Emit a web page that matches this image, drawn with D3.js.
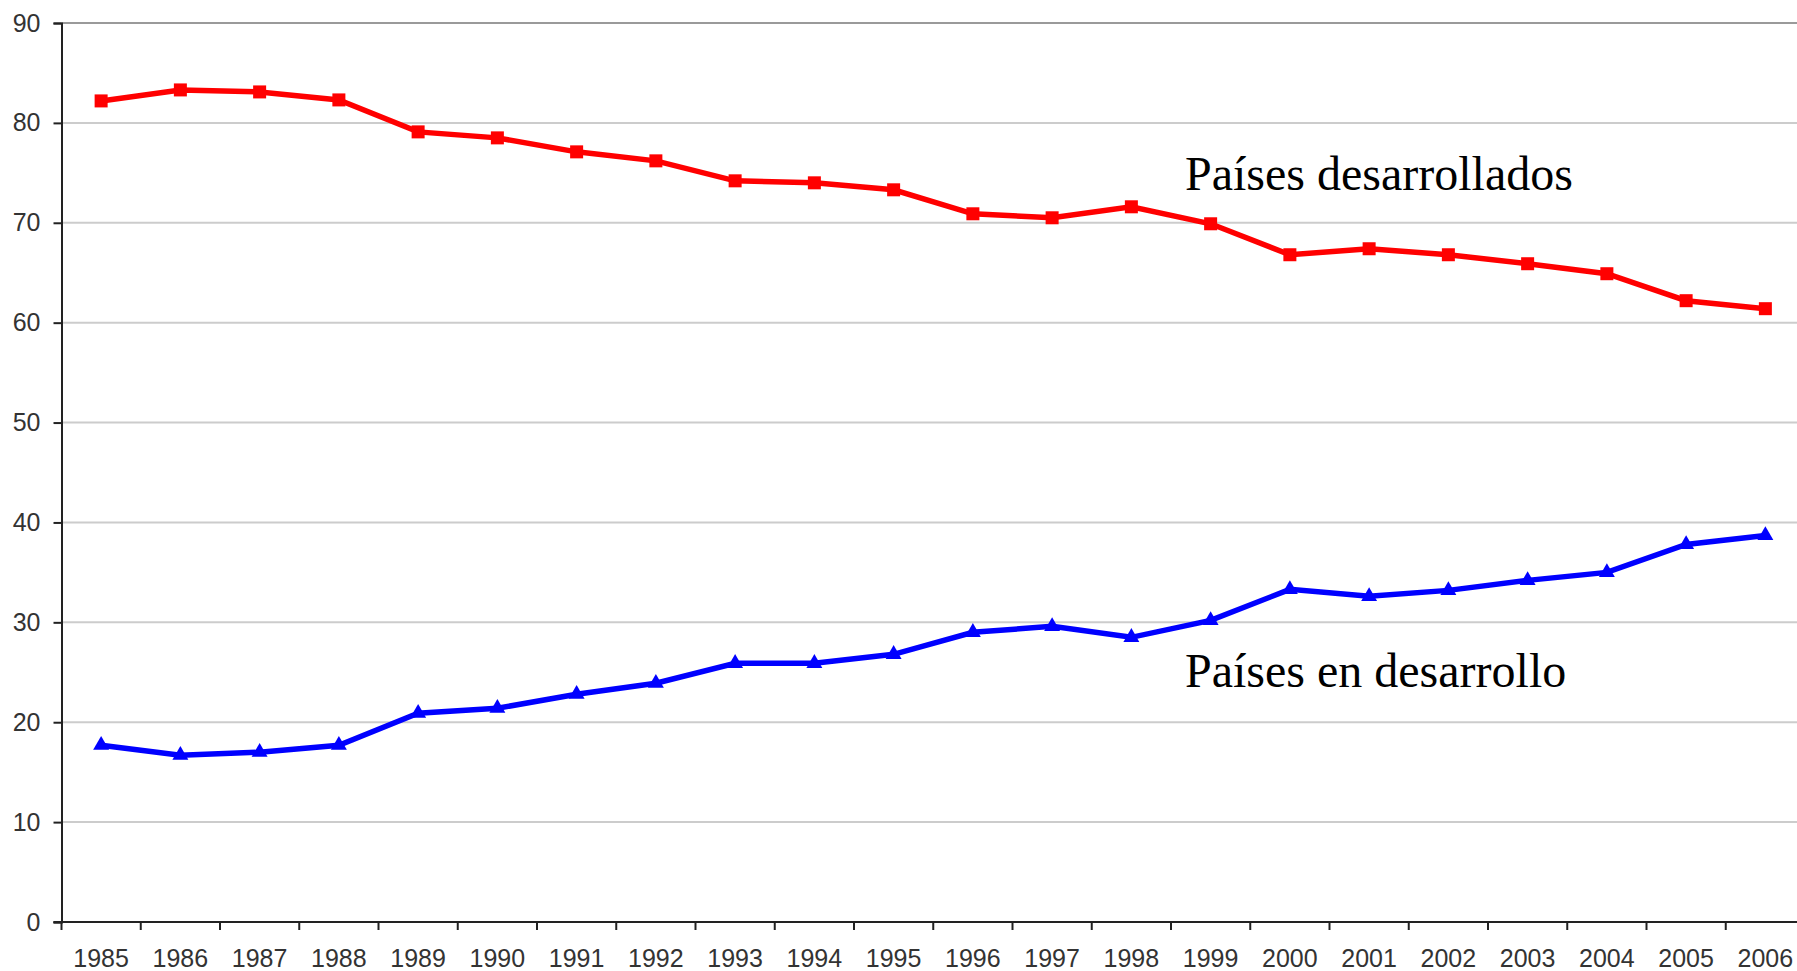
<!DOCTYPE html>
<html>
<head>
<meta charset="utf-8">
<script src="https://cdn.jsdelivr.net/npm/d3@7"></script>
<style>
  body { margin: 0; background: #fff; }
  svg { display: block; }
</style>
</head>
<body>
<svg id="chart" width="1797" height="971"></svg>
<script>
// años y porcentajes
const years = [1985, 1986, 1987, 1988, 1989, 1990, 1991, 1992, 1993, 1994, 1995,
  1996, 1997, 1998, 1999, 2000, 2001, 2002, 2003, 2004, 2005, 2006];
const developed = [82.2, 83.3, 83.1, 82.3, 79.1, 78.5, 77.1, 76.2, 74.2, 74.0, 73.3,
  70.9, 70.5, 71.6, 69.9, 66.8, 67.4, 66.8, 65.9, 64.9, 62.2, 61.4];
const developing = [17.7, 16.7, 17.0, 17.7, 20.9, 21.4, 22.8, 23.9, 25.9, 25.9, 26.8,
  29.0, 29.6, 28.5, 30.2, 33.3, 32.6, 33.2, 34.2, 35.0, 37.8, 38.7];
const yTicks = [0, 10, 20, 30, 40, 50, 60, 70, 80, 90];
const seriesLabels = ["Países desarrollados", "Países en desarrollo"];

const svg = d3.select("#chart");
const plotLeft = 61.5, plotRight = 1805, plotTop = 23, plotBottom = 922;

const x = d3.scaleBand().domain(years).range([plotLeft, plotRight]);
const y = d3.scaleLinear().domain([0, 90]).range([plotBottom, plotTop]);

// líneas de la cuadrícula
svg.append("g")
  .selectAll("line")
  .data(yTicks.filter(d => d > 0))
  .enter()
  .append("line")
  .attr("x1", plotLeft).attr("x2", 1797)
  .attr("y1", d => y(d)).attr("y2", d => y(d))
  .style("stroke", d => d === 90 ? "#9a9a9a" : "#cccccc")
  .style("stroke-width", 2);

// eje y
const yAxis = svg.append("g")
  .attr("transform", `translate(${plotLeft},0)`)
  .call(d3.axisLeft(y).tickValues(yTicks).tickSize(8).tickPadding(13));
yAxis.select(".domain").style("stroke", "#222").style("stroke-width", 2);
yAxis.selectAll(".tick line").style("stroke", "#222").style("stroke-width", 2);
yAxis.selectAll("text")
  .style("font-family", "'Liberation Sans', Arial, sans-serif")
  .style("font-size", "25px")
  .style("fill", "#333");

// eje x (marcas entre categorías)
const xAxisG = svg.append("g").attr("transform", `translate(0,${plotBottom})`);
xAxisG.append("line")
  .attr("x1", plotLeft - 8).attr("x2", 1797)
  .style("stroke", "#222").style("stroke-width", 2);
xAxisG.selectAll(".tk")
  .data(years)
  .enter()
  .append("line")
  .attr("class", "tk")
  .attr("x1", d => x(d) + x.bandwidth()).attr("x2", d => x(d) + x.bandwidth())
  .attr("y1", 0).attr("y2", 8)
  .style("stroke", "#222").style("stroke-width", 2);
xAxisG.append("line")
  .attr("x1", plotLeft).attr("x2", plotLeft).attr("y1", 0).attr("y2", 8)
  .style("stroke", "#222").style("stroke-width", 2);
xAxisG.selectAll(".yl")
  .data(years)
  .enter()
  .append("text")
  .attr("class", "yl")
  .attr("x", d => x(d) + x.bandwidth() / 2)
  .attr("y", 45)
  .attr("text-anchor", "middle")
  .style("font-family", "'Liberation Sans', Arial, sans-serif")
  .style("font-size", "25px")
  .style("fill", "#333")
  .text(d => d);

const cx = i => x(years[i]) + x.bandwidth() / 2;
const line = d3.line().x((d, i) => cx(i)).y(d => y(d));

// serie roja
svg.append("path")
  .datum(developed)
  .attr("d", line)
  .style("fill", "none")
  .style("stroke", "#ff0000")
  .style("stroke-width", 5.5);
svg.selectAll(".sq")
  .data(developed)
  .enter()
  .append("rect")
  .attr("class", "sq")
  .attr("x", (d, i) => cx(i) - 6.5)
  .attr("y", d => y(d) - 6.5)
  .attr("width", 13).attr("height", 13)
  .style("fill", "#ff0000");

// serie azul
svg.append("path")
  .datum(developing)
  .attr("d", line)
  .style("fill", "none")
  .style("stroke", "#0000ff")
  .style("stroke-width", 5.5);
const tri = d3.symbol().type(d3.symbolTriangle).size(110);
svg.selectAll(".tri")
  .data(developing)
  .enter()
  .append("path")
  .attr("class", "tri")
  .attr("d", tri)
  .attr("transform", (d, i) => `translate(${cx(i)},${y(d)})`)
  .style("fill", "#0000ff");

// etiquetas de series
svg.selectAll(".lbl")
  .data(seriesLabels)
  .enter()
  .append("text")
  .attr("class", "lbl")
  .attr("x", 1185)
  .attr("y", (d, i) => i === 0 ? 190 : 687)
  .style("font-family", "'Liberation Serif', 'Times New Roman', serif")
  .style("font-size", "48px")
  .style("fill", "#000")
  .text(d => d);
</script>
</body>
</html>
